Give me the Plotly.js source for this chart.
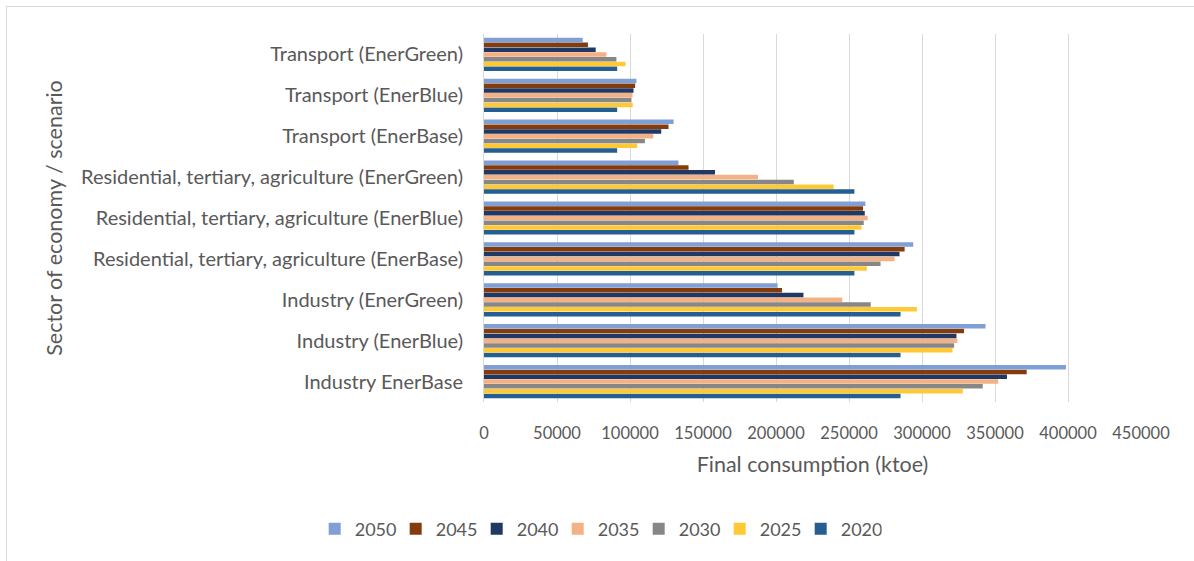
<!DOCTYPE html>
<html>
<head>
<meta charset="utf-8">
<script src="https://cdn.plot.ly/plotly-3.0.1.min.js"></script>
<style>
  html, body { margin: 0; padding: 0; background: #ffffff; }
  #wrap { position: relative; width: 1194px; height: 561px; overflow: hidden; }
  #chart { position: absolute; left: 0; top: 0; width: 1194px; height: 561px; }
  #frame { position: absolute; left: 6px; top: 6px; width: 1200px; height: 600px;
           border: 1px solid #d9d9d9; pointer-events: none; }
</style>
</head>
<body>
<div id="wrap">
  <div id="chart"></div>
  <div id="frame"></div>
</div>
<script>
// Sectors, bottom to top
const categories = [
  "Industry EnerBase",
  "Industry (EnerBlue)",
  "Industry (EnerGreen)",
  "Residential, tertiary, agriculture (EnerBase)",
  "Residential, tertiary, agriculture (EnerBlue)",
  "Residential, tertiary, agriculture (EnerGreen)",
  "Transport (EnerBase)",
  "Transport (EnerBlue)",
  "Transport (EnerGreen)"
];

const years = ["2020", "2025", "2030", "2035", "2040", "2045", "2050"];

// Final consumption (ktoe) per year, same order as categories
const v2020 = [285300, 285300, 285300, 253700, 253700, 253700, 91200, 91200, 91200];
const v2025 = [328000, 320900, 296500, 262200, 258500, 239500, 104900, 101900, 96900];
const v2030 = [341600, 322000, 264900, 271600, 260100, 212200, 110200, 101000, 90700];
const v2035 = [352200, 324200, 245400, 281200, 262800, 187700, 115900, 101700, 83800];
const v2040 = [358200, 323600, 218800, 284600, 260800, 158200, 121400, 102400, 76500];
const v2045 = [371700, 328800, 204100, 288100, 259600, 140100, 126400, 103500, 71200];
const v2050 = [398600, 343500, 201100, 294000, 261200, 133200, 129900, 104400, 67600];

const seriesValues = [v2020, v2025, v2030, v2035, v2040, v2045, v2050];
const seriesColors = ["#255e91", "#ffc935", "#878787", "#f4b183", "#203864", "#843c0c", "#7f9fd5"];

const xTicks = [0, 50000, 100000, 150000, 200000, 250000, 300000, 350000, 400000, 450000];

const textColor = "#595959";
const fontFamily = "Lato, 'Open Sans', sans-serif";

const traces = years.map((yr, i) => ({
  type: "bar",
  orientation: "h",
  name: yr,
  y: categories,
  x: seriesValues[i],
  marker: { color: seriesColors[i], line: { width: 0 } },
  hoverinfo: "x+name"
}));

const layout = {
  width: 1194,
  height: 561,
  paper_bgcolor: "rgba(0,0,0,0)",
  plot_bgcolor: "#ffffff",
  margin: { l: 484, r: 53, t: 34, b: 159 },
  barmode: "group",
  bargap: 0.18,
  bargroupgap: 0.06,
  font: { family: fontFamily, color: textColor, size: 16 },
  xaxis: {
    range: [0, 450000],
    tickvals: xTicks,
    ticktext: xTicks.map(String),
    showgrid: true,
    gridcolor: "#d9d9d9",
    gridwidth: 1,
    zeroline: false,
    showline: false,
    ticks: "",
    ticklabelstandoff: 19,
    tickfont: { size: 16.5, color: textColor },
    title: { text: "Final consumption (ktoe)", font: { size: 21.5, color: textColor }, standoff: 15 }
  },
  yaxis: {
    type: "category",
    categoryorder: "array",
    categoryarray: categories,
    showgrid: false,
    showline: true,
    linecolor: "#d9d9d9",
    linewidth: 1,
    ticks: "",
    ticklabelstandoff: 16,
    tickfont: { size: 20, color: textColor },
    title: { text: "Sector of economy / scenario", font: { size: 21.5, color: textColor }, standoff: 12 }
  },
  showlegend: true,
  legend: {
    orientation: "h",
    traceorder: "reversed",
    xref: "container",
    yref: "container",
    x: 0.501,
    xanchor: "center",
    y: 0.057,
    yanchor: "middle",
    font: { size: 18, color: textColor },
    itemwidth: 30,
    entrywidth: 36,
    bgcolor: "rgba(0,0,0,0)"
  }
};

Plotly.newPlot("chart", traces, layout, { displayModeBar: false, staticPlot: true });
</script>
</body>
</html>
